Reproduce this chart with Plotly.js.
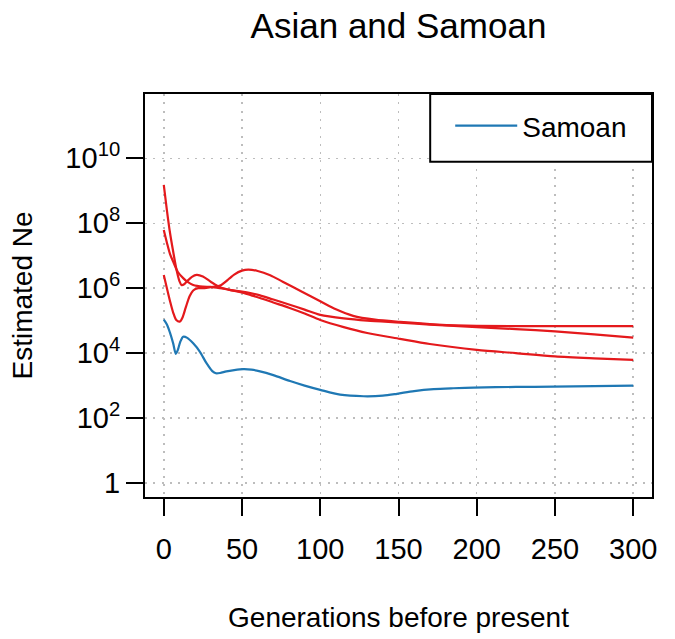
<!DOCTYPE html>
<html>
<head>
<meta charset="utf-8">
<script src="https://cdn.plot.ly/plotly-3.0.1.min.js"></script>
<style>
  html, body { margin: 0; padding: 0; background: #ffffff; }
  #chart { width: 675px; height: 639px; }
</style>
</head>
<body>
<div id="chart"></div>
<script>
// ---- data (generations before present, estimated Ne) ----
const samoanX = [0, 2, 4, 6, 7.7, 9, 10.5, 12.4, 15, 18.8, 23, 27.3, 31, 33.3, 36, 40, 45, 50.8, 56, 61.5, 70, 80.7, 90, 100, 112.7, 127.7, 140, 149, 160, 172.5, 185, 198, 225, 249, 275, 300];
const samoanNe = [1.07e5, 7.6e4, 4.2e4, 2.0e4, 9.5e3, 1.26e4, 2.2e4, 3.2e4, 2.95e4, 2.0e4, 1.12e4, 4.9e3, 2.8e3, 2.4e3, 2.45e3, 2.75e3, 3.0e3, 3.2e3, 3.1e3, 2.75e3, 2.1e3, 1.38e3, 1.0e3, 740, 525, 470, 490, 560, 680, 780, 830, 870, 910, 930, 965, 1000];

const asianAX = [0, 2, 4, 6, 8, 10, 11.3, 13, 15, 18, 21, 25, 30, 36, 42, 49, 56, 61.5, 70, 80, 90, 100, 115, 130, 151, 170, 200, 225, 250, 275, 300];
const asianANe = [1.51e9, 2.51e8, 5.01e7, 1.35e7, 3.98e6, 1.66e6, 1.26e6, 1.32e6, 1.66e6, 2.24e6, 2.57e6, 2.29e6, 1.585e6, 1.07e6, 8.91e5, 7.59e5, 6.03e5, 5.01e5, 3.63e5, 2.51e5, 1.66e5, 1.047e5, 6.31e4, 4.17e4, 2.75e4, 1.91e4, 1.26e4, 1.0e4, 7.94e3, 6.92e3, 6.17e3];

const asianBX = [0, 2, 4, 6, 9, 12.4, 15, 18.8, 25, 30, 36, 42, 49, 56, 61.5, 70, 80, 90, 100, 115, 130, 151, 170, 200, 225, 250, 275, 300];
const asianBNe = [6.17e7, 2.51e7, 1.12e7, 6.61e6, 3.16e6, 2.04e6, 1.585e6, 1.26e6, 1.12e6, 1.1e6, 1.0e6, 8.91e5, 7.94e5, 6.92e5, 6.03e5, 4.47e5, 3.16e5, 2.19e5, 1.51e5, 1.17e5, 1.0e5, 8.71e4, 7.59e4, 6.31e4, 5.5e4, 4.68e4, 3.8e4, 3.02e4];

const asianCX = [0, 2, 4, 6, 8, 10.2, 12, 14, 16.5, 18.8, 22, 26, 30, 36, 42, 45, 50, 54, 60, 68, 76, 88, 100, 110, 121, 135, 151, 175, 200, 250, 300];
const asianCNe = [2.57e6, 1.0e6, 3.98e5, 1.78e5, 1.047e5, 9.33e4, 1.26e5, 2.51e5, 5.62e5, 8.51e5, 1.0e6, 1.0e6, 1.07e6, 1.2e6, 2.0e6, 2.63e6, 3.47e6, 3.72e6, 3.39e6, 2.51e6, 1.585e6, 7.94e5, 3.98e5, 2.24e5, 1.41e5, 1.07e5, 9.12e4, 7.59e4, 6.92e4, 6.76e4, 6.76e4];

const xTickVals = [0, 50, 100, 150, 200, 250, 300];
const yTickVals = [1, 1e2, 1e4, 1e6, 1e8, 1e10];
const yTickText = ['1', '10<sup>2</sup>', '10<sup>4</sup>', '10<sup>6</sup>', '10<sup>8</sup>', '10<sup>10</sup>'];

const titleText = 'Asian and Samoan';
const xTitle = 'Generations before present';
const yTitle = 'Estimated Ne';
const samoanName = 'Samoan';

// ---- styling ----
const RED = '#e4191c';
const BLUE = '#1f78b4';
const FONT = 'Liberation Sans, Arial, Helvetica, sans-serif';

function redTrace(x, y, name) {
  return { x: x, y: y, type: 'scatter', mode: 'lines', name: name, showlegend: false,
           line: { color: RED, width: 2.2, shape: 'spline', smoothing: 0.8 }, hoverinfo: 'x+y' };
}

const traces = [
  redTrace(asianAX, asianANe, 'Asian 1'),
  redTrace(asianBX, asianBNe, 'Asian 2'),
  redTrace(asianCX, asianCNe, 'Asian 3'),
  { x: samoanX, y: samoanNe, type: 'scatter', mode: 'lines', name: samoanName,
    line: { color: BLUE, width: 2.2, shape: 'spline', smoothing: 0.8 } }
];

const gridStyle = { showgrid: true, gridcolor: '#bdbdbd', gridwidth: 1.5, griddash: '2px,6.3px' };

const layout = {
  width: 675, height: 639,
  margin: { l: 145, r: 23.3, t: 94, b: 141.7 },
  paper_bgcolor: '#ffffff', plot_bgcolor: '#ffffff',
  font: { family: FONT, size: 28, color: '#000000' },
  title: { text: titleText, font: { family: FONT, size: 35, color: '#000' },
           x: 0.5, xref: 'paper', xanchor: 'center', y: 0.9596, yref: 'container', yanchor: 'middle' },
  xaxis: Object.assign({
    range: [-12, 312], tickmode: 'array', tickvals: xTickVals,
    ticks: 'outside', ticklen: 17, tickwidth: 2, tickcolor: '#000',
    showline: true, mirror: true, linecolor: '#000', linewidth: 2,
    zeroline: false, tickfont: { family: FONT, size: 29 }, ticklabelstandoff: 8,
    title: { text: xTitle, font: { family: FONT, size: 28 }, standoff: 44 }
  }, gridStyle),
  yaxis: Object.assign({
    type: 'log', range: [-0.43, 11.98], tickmode: 'array', tickvals: yTickVals, ticktext: yTickText,
    ticks: 'outside', ticklen: 17, tickwidth: 2, tickcolor: '#000',
    showline: true, mirror: true, linecolor: '#000', linewidth: 2,
    zeroline: false, tickfont: { family: FONT, size: 29 },
    title: { text: yTitle, font: { family: FONT, size: 28 }, standoff: 25 }
  }, gridStyle),
  showlegend: true,
  legend: { x: 0.602, xanchor: 'left', y: 0.9826, yanchor: 'top', bgcolor: 'rgba(0,0,0,0)',
            borderwidth: 0, font: { family: FONT, size: 28 }, itemwidth: 62 },
  shapes: [
    { type: 'rect', xref: 'paper', yref: 'paper', x0: 0.5625, x1: 1, y0: 0.8321, y1: 1,
      line: { color: '#000', width: 2 }, fillcolor: '#ffffff', layer: 'above' }
  ]
};

Plotly.newPlot('chart', traces, layout, { staticPlot: true, displayModeBar: false });
</script>
</body>
</html>
